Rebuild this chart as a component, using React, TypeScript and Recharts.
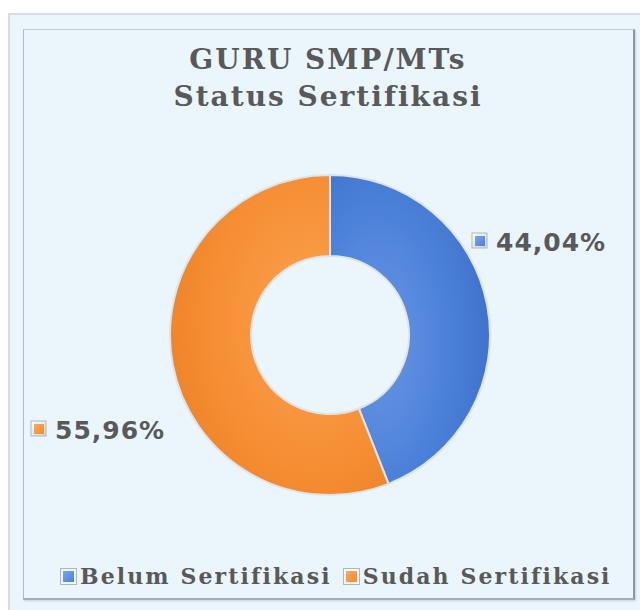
import { Cell, Legend, Pie, PieChart } from "recharts";

// Status sertifikasi guru SMP/MTs (percent)
const CATEGORIES = ["Belum Sertifikasi", "Sudah Sertifikasi"];
const VALUES = [44.04, 55.96];
const COLORS = ["#4a7fd8", "#f5892f"];
const LIGHT = ["#79a6ee", "#fbab5c"];

const TITLE = ["GURU SMP/MTs", "Status Sertifikasi"];

const INK = "#595959";
const SERIF = "'DejaVu Serif', serif";
const SANS = "'DejaVu Sans', sans-serif";

const rows = CATEGORIES.map((name, i) => ({ name, value: VALUES[i] }));

const pct = (v: number) => `${v.toFixed(2).replace(".", ",")}%`;

function Marker({ x, y, i }: { x: number; y: number; i: number }) {
  return (
    <g>
      <rect x={x} y={y} width={15} height={15} fill="url(#mk)" stroke="#aeb6bf" strokeWidth={1} />
      <rect x={x + 3} y={y + 3} width={10} height={10} fill={`url(#g${i})`} />
    </g>
  );
}

// label spots sit outside the ring, right one up high, left one down low
function renderLabel(p: any) {
  const { cx, cy, index, value } = p;
  const spot = index === 0 ? { x: cx + 142, y: cy - 95 } : { x: cx - 299, y: cy + 93 };
  return (
    <g>
      <Marker x={spot.x} y={spot.y - 7} i={index} />
      <text
        x={spot.x + 24}
        y={spot.y + 2}
        dominantBaseline="central"
        fontFamily={SANS}
        fontWeight={700}
        fontSize={25}
        letterSpacing={1}
        fill={INK}
      >
        {pct(value)}
      </text>
    </g>
  );
}

function LegendBox() {
  return (
    <div style={{ display: "flex", alignItems: "center", paddingLeft: 52 }}>
      {CATEGORIES.map((c, i) => (
        <div key={c} style={{ display: "flex", alignItems: "center", marginRight: 11 }}>
          <svg width={17} height={17} style={{ marginRight: 3 }}>
            <defs>
              <linearGradient id={`lg${i}`} x1="0" y1="0" x2="1" y2="1">
                <stop offset="0%" stopColor={LIGHT[i]} />
                <stop offset="100%" stopColor={COLORS[i]} />
              </linearGradient>
            </defs>
            <rect x={0.5} y={0.5} width={16} height={16} fill="#f4f6f8" stroke="#aeb6bf" />
            <rect x={3} y={3} width={11} height={11} fill={`url(#lg${i})`} />
          </svg>
          <span
            style={{
              fontFamily: SERIF,
              fontWeight: 700,
              fontSize: 22,
              letterSpacing: 2.1,
              color: INK,
            }}
          >
            {c}
          </span>
        </div>
      ))}
    </div>
  );
}

export default function App() {
  return (
    <div
      style={{
        position: "absolute",
        left: 8,
        top: 13,
        width: 632,
        height: 597,
        background: "#eaf6fc",
        boxShadow: "inset 2px 2px 0 #d9dde1",
      }}
    >
      <div
        style={{
          position: "absolute",
          left: 15,
          top: 16,
          width: 612,
          height: 571,
          borderTop: "1px solid #c3cbd2",
          borderLeft: "1px solid #b3bcc4",
          borderRight: "2px solid #8d969e",
          borderBottom: "2px solid #a3adb6",
          boxShadow: "1px 1px 2px rgba(0,0,0,0.15)",
          boxSizing: "border-box",
        }}
      />
      <div
        style={{
          position: "absolute",
          left: 0,
          top: 28,
          width: 640,
          textAlign: "center",
          fontFamily: SERIF,
          fontWeight: 700,
          fontSize: 28,
          letterSpacing: 2,
          lineHeight: "37px",
          color: INK,
        }}
      >
        {TITLE.map((t) => (
          <div key={t}>{t}</div>
        ))}
      </div>
      <div style={{ position: "absolute", left: 0, top: 0 }}>
        <PieChart width={632} height={597}>
          <defs>
            <linearGradient id="mk" x1="0" y1="0" x2="1" y2="1">
              <stop offset="0%" stopColor="#ffffff" />
              <stop offset="100%" stopColor="#cfd5db" />
            </linearGradient>
            {COLORS.map((c, i) => (
              <linearGradient key={c} id={`g${i}`} x1="0" y1="0" x2="1" y2="1">
                <stop offset="0%" stopColor={LIGHT[i]} />
                <stop offset="100%" stopColor={c} />
              </linearGradient>
            ))}
            <radialGradient id="s0" cx="0.3" cy="0.55" r="0.8">
              <stop offset="0%" stopColor="#6896e6" />
              <stop offset="60%" stopColor="#4a7fd8" />
              <stop offset="100%" stopColor="#3b6cc6" />
            </radialGradient>
            <radialGradient id="s1" cx="0.65" cy="0.45" r="0.8">
              <stop offset="0%" stopColor="#fba24f" />
              <stop offset="60%" stopColor="#f58d33" />
              <stop offset="100%" stopColor="#ec7d23" />
            </radialGradient>
          </defs>
          <Pie
            data={rows}
            dataKey="value"
            nameKey="name"
            cx={317}
            cy={317}
            innerRadius={79}
            outerRadius={160}
            startAngle={90}
            endAngle={-270}
            stroke="#dfe4ea"
            strokeWidth={2}
            label={renderLabel}
            labelLine={false}
            isAnimationActive={false}
          >
            {rows.map((r, i) => (
              <Cell key={r.name} fill={`url(#s${i})`} />
            ))}
          </Pie>
          <Legend
            content={() => <LegendBox />}
            wrapperStyle={{ position: "absolute", left: 0, top: 550, width: 632 }}
          />
        </PieChart>
      </div>
    </div>
  );
}
